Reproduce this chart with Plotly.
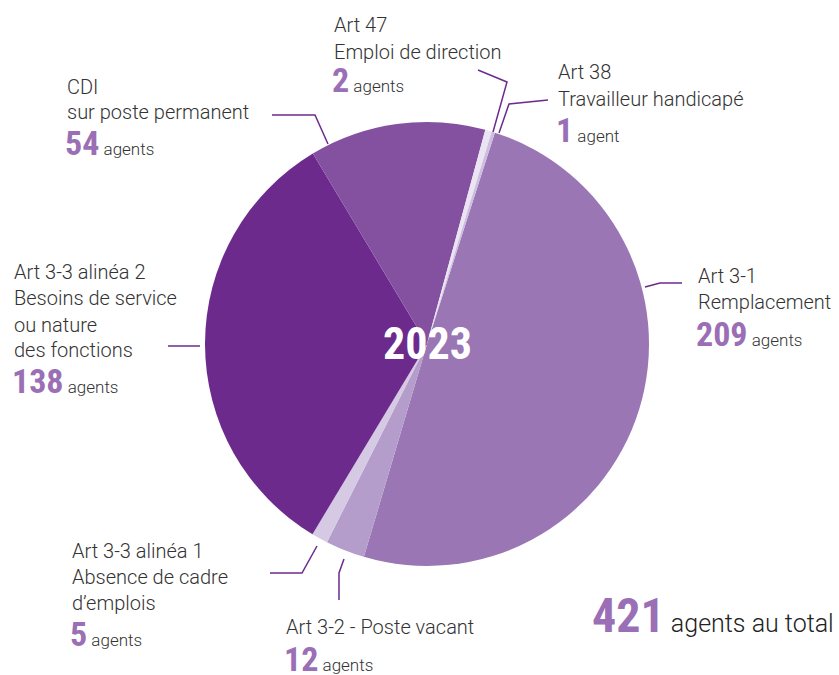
import plotly.graph_objects as go

W, H = 839, 675

labels = ["Art 3-1 Remplacement", "Art 3-2 - Poste vacant", "Art 3-3 alinéa 1", "Art 3-3 alinéa 2",
          "CDI sur poste permanent", "Art 47", "Art 38"]
values = [209, 12, 5, 138, 54, 2, 1]
colors = ["#9a76b4", "#b49ccb", "#d6c9e3", "#6c2b8c", "#8451a1", "#ebe4f2", "#cdbddf"]
total = sum(values)
year = "2023"

TXT = "#333333"
NUM = "#9a6fb5"
LINE = "#6c2b8c"
FONT = "Roboto"
NFONT = "Roboto Condensed, Noto Sans Condensed, DejaVu Sans Condensed, Liberation Sans Narrow, Open Sans, sans-serif"
NSTYLE = f"font-family:{NFONT};font-stretch:condensed;font-weight:bold"

# text blocks: x(px), y of each line (px), lines, y of number line, index of value
blocks = [
    (696, [276, 302], ["Art 3-1", "Remplacement"], 334, 0),
    (284, [627], ["Art 3-2 - Poste vacant"], 659, 1),
    (70, [551, 577, 603], ["Art 3-3 alinéa 1", "Absence de cadre", "d’emplois"], 634, 2),
    (12, [272, 298, 325, 350], ["Art 3-3 alinéa 2", "Besoins de service", "ou nature", "des fonctions"], 381, 3),
    (65, [87, 112], ["CDI", "sur poste permanent"], 143, 4),
    (332, [25, 52], ["Art 47", "Emploi de direction"], 80, 5),
    (556, [72, 99], ["Art 38", "Travailleur handicapé"], 130, 6),
]

leaders = [
    [(645, 287), (660, 283), (682, 283)],
    [(344, 559), (339, 573), (339, 600)],
    [(317, 546), (302, 573), (270, 573)],
    [(168, 346), (200, 346)],
    [(328, 144), (315, 115), (272, 115)],
    [(493, 132), (507, 82), (478, 70)],
    [(499, 133), (509, 104), (548, 100)],
]

cx, cy, r = 427, 344, 222

fig = go.Figure(go.Pie(
    labels=labels, values=values, sort=False, direction="clockwise", rotation=17.8,
    marker=dict(colors=colors, line=dict(width=0)), textinfo="none", hoverinfo="label+value",
    domain=dict(x=[(cx - r) / W, (cx + r) / W], y=[(H - cy - r) / H, (H - cy + r) / H]),
    showlegend=False,
))

px_x = lambda x: x / W
px_y = lambda y: 1 - y / H

anns = []
for x, ys, lines, ny, i in blocks:
    for y, t in zip(ys, lines):
        anns.append(dict(x=px_x(x), y=px_y(y), text=t, xanchor="left", yanchor="middle", showarrow=False,
                         font=dict(family=FONT, size=20, color=TXT, weight=300)))
    unit = "agent" if values[i] == 1 else "agents"
    anns.append(dict(x=px_x(x - 2), y=px_y(ny), xanchor="left", yanchor="middle", showarrow=False,
                     text=f"<span style='{NSTYLE};font-size:34px;fill:{NUM}'>{values[i]}</span> {unit}",
                     font=dict(family=FONT, size=17, color=TXT, weight=300)))

anns.append(dict(x=px_x(cx), y=px_y(cy), text=f"<span style='{NSTYLE}'>{year}</span>",
                 xanchor="center", yanchor="middle", showarrow=False,
                 font=dict(family=NFONT, size=44, color="white")))
anns.append(dict(x=px_x(590), y=px_y(615), xanchor="left", yanchor="middle", showarrow=False,
                 text=f"<span style='{NSTYLE};font-size:48px;fill:{NUM}'>{total}</span> agents au total",
                 font=dict(family=FONT, size=25, color="#222222", weight=300)))

shapes = []
for pts in leaders:
    path = "M " + " L ".join(f"{px_x(x):.5f},{px_y(y):.5f}" for x, y in pts)
    shapes.append(dict(type="path", path=path, xref="paper", yref="paper",
                       line=dict(color=LINE, width=1.5)))

fig.update_layout(width=W, height=H, margin=dict(l=0, r=0, t=0, b=0),
                  paper_bgcolor="white", plot_bgcolor="white",
                  annotations=anns, shapes=shapes)

fig.write_html("out.html", config={"displayModeBar": False},
               post_script="document.body.style.margin='0';")
